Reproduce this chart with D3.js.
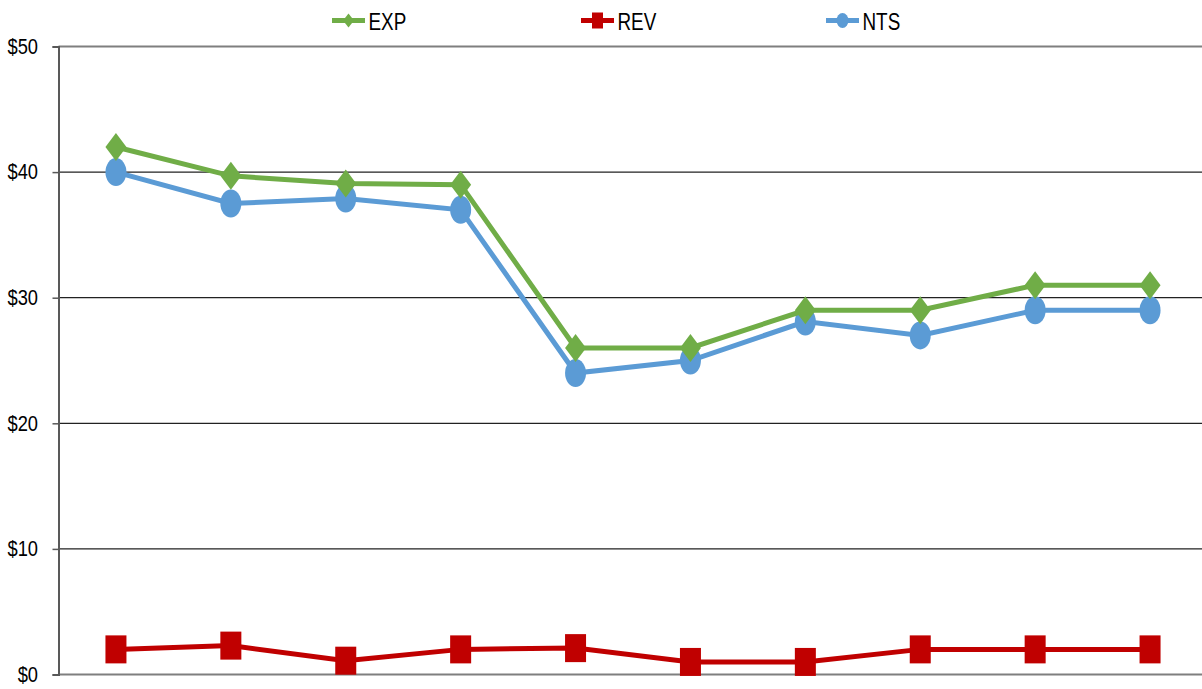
<!DOCTYPE html>
<html>
<head>
<meta charset="utf-8">
<script src="https://cdn.jsdelivr.net/npm/d3@7"></script>
<style>
  body { margin: 0; background: #fff; }
  svg { display: block; }
  text { font-family: "Liberation Sans", Arial, sans-serif; fill: #000; }
</style>
</head>
<body>
<svg id="chart" width="1202" height="689"></svg>
<script>
// data
const periods = ["1", "2", "3", "4", "5", "6", "7", "8", "9", "10"];
const exp = [42, 39.7, 39.1, 39, 26, 26, 29, 29, 31, 31];
const rev = [2, 2.3, 1.1, 2, 2.1, 1, 1, 2, 2, 2];
const nts = [40, 37.5, 37.9, 37, 24, 25, 28.1, 27, 29, 29];
const yTicks = [0, 10, 20, 30, 40, 50];

const series = [
  { name: "EXP", values: exp, color: "#70AD47", shape: "diamond" },
  { name: "REV", values: rev, color: "#C00000", shape: "square" },
  { name: "NTS", values: nts, color: "#5B9BD5", shape: "circle" }
];

const svg = d3.select("#chart");
const plotLeft = 58.5, plotRight = 1207.5, plotTop = 46.5, plotBottom = 674.5;
// no narrow font installed, so squeeze the regular one
const labelSquash = 0.85, legendSquash = 0.77;

const x = d3.scaleBand().domain(periods).range([plotLeft, plotRight]);
const y = d3.scaleLinear().domain([0, 50]).range([plotBottom, plotTop]);

// gridlines
svg.append("g")
  .selectAll("line")
  .data(yTicks.filter(d => d > 0 && d < 50))
  .enter()
  .append("line")
  .attr("x1", plotLeft).attr("x2", 1202)
  .attr("y1", d => y(d)).attr("y2", d => y(d))
  .style("stroke", "#222")
  .style("stroke-width", 1.3);

// top border + bottom axis
[50, 0].forEach(v => {
  svg.append("line")
    .attr("x1", plotLeft).attr("x2", 1202)
    .attr("y1", y(v)).attr("y2", y(v))
    .style("stroke", "#7f7f7f")
    .style("stroke-width", 2);
});

// y axis
const yAxis = svg.append("g")
  .attr("transform", `translate(${plotLeft},0)`)
  .call(d3.axisLeft(y).tickValues(yTicks).tickSize(6).tickFormat(d => "$" + d));
yAxis.select(".domain").style("stroke", "#595959").style("stroke-width", 2);
yAxis.selectAll(".tick line").style("stroke", "#595959").style("stroke-width", 1.5);
yAxis.selectAll(".tick text")
  .attr("x", -20.5 / labelSquash)
  .attr("transform", `scale(${labelSquash},1)`)
  .style("font-size", "21.5px")
  .attr("fill", "#000");

const cx = (d, i) => x(periods[i]) + x.bandwidth() / 2;

function marker(sel, shape, w, h, color) {
  if (shape === "diamond") {
    sel.append("path")
      .attr("d", `M0,${-h / 2}L${w / 2},0L0,${h / 2}L${-w / 2},0Z`)
      .style("fill", color);
  } else if (shape === "square") {
    sel.append("rect")
      .attr("x", -w / 2).attr("y", -h / 2)
      .attr("width", w).attr("height", h)
      .style("fill", color);
  } else {
    sel.append("ellipse")
      .attr("rx", w / 2).attr("ry", h / 2)
      .style("fill", color);
  }
}

const line = d3.line()
  .x((d, i) => cx(d, i))
  .y(d => y(d));

// draw REV first, then NTS, then EXP on top
[series[1], series[2], series[0]].forEach(s => {
  svg.append("path")
    .datum(s.values)
    .attr("d", line)
    .style("fill", "none")
    .style("stroke", s.color)
    .style("stroke-width", 5);

  svg.append("g")
    .selectAll("g")
    .data(s.values)
    .enter()
    .append("g")
    .attr("transform", (d, i) => `translate(${cx(d, i)},${y(d)})`)
    .each(function () {
      marker(d3.select(this), s.shape, 21, 28, s.color);
    });
});

// legend
const legendX = [332, 581, 826];
const legend = svg.append("g")
  .selectAll("g")
  .data(series)
  .enter()
  .append("g")
  .attr("transform", (d, i) => `translate(${legendX[i]},20.5)`);

legend.append("line")
  .attr("x1", 0).attr("x2", 33)
  .style("stroke", d => d.color)
  .style("stroke-width", 5);

legend.each(function (d) {
  const g = d3.select(this).append("g").attr("transform", "translate(16.5,0)");
  if (d.shape === "diamond") marker(g, "diamond", 11, 14, d.color);
  else if (d.shape === "square") marker(g, "square", 11, 16, d.color);
  else marker(g, "circle", 12, 15, d.color);
});

legend.append("text")
  .attr("transform", `translate(36.5,9) scale(${legendSquash},1)`)
  .style("font-size", "24.5px")
  .text(d => d.name);
</script>
</body>
</html>
